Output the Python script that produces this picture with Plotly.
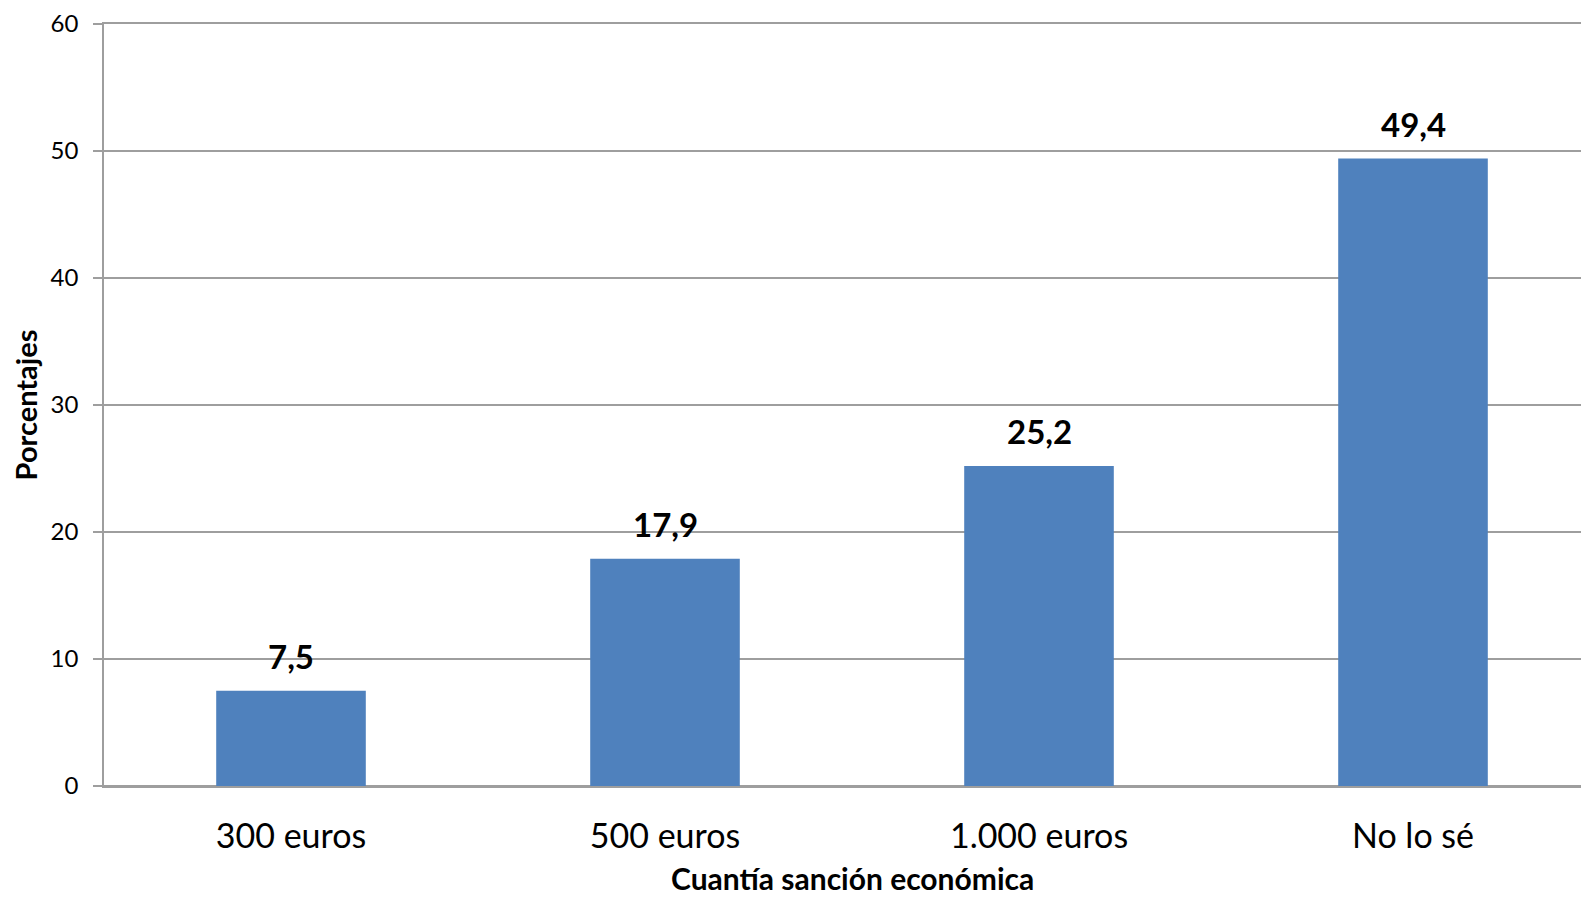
import plotly.graph_objects as go

categories = ["300 euros", "500 euros", "1.000 euros", "No lo sé"]
values = [7.5, 17.9, 25.2, 49.4]
y_ticks = [0, 10, 20, 30, 40, 50, 60]
x_title = "Cuantía sanción económica"
y_title = "Porcentajes"

FONT = "Lato, 'Open Sans', sans-serif"
BAR = "#4F81BD"
GRID = "#9e9e9e"

fig = go.Figure()
fig.add_trace(go.Bar(
    x=categories, y=values, marker=dict(color=BAR, line=dict(width=0)),
    width=0.4, hoverinfo="skip",
))

for c, v in zip(categories, values):
    fig.add_annotation(
        x=c, y=v, text="<b>" + f"{v:.1f}".replace(".", ",") + "</b>",
        showarrow=False, yanchor="bottom", yshift=13,
        font=dict(family=FONT, size=33, color="black"),
    )

# x-axis title as a paper annotation so it can sit low, like the reference
fig.add_annotation(
    xref="paper", yref="paper", x=0.504, y=-0.121,
    xanchor="center", yanchor="middle", showarrow=False, borderpad=0,
    text="<b>" + x_title + "</b>",
    font=dict(family=FONT, size=30, color="black"),
)

# page body has an 8px margin; compensate so the chart sits like the reference
fig.update_layout(
    width=1581, height=889,
    margin=dict(l=96, r=0, t=16, b=111, pad=0, autoexpand=False),
    paper_bgcolor="white", plot_bgcolor="white",
    showlegend=False,
    font=dict(family=FONT, color="black"),
    bargap=0.6,
)
fig.update_xaxes(
    range=[-0.5, -0.5 + 1485 / 374.0], automargin=False,
    showgrid=False, showline=True, mirror=True,
    linecolor=GRID, linewidth=1.5, zeroline=False,
    ticks="", ticklabelstandoff=19,
    tickfont=dict(family=FONT, size=34, color="black"),
)
fig.update_yaxes(
    range=[0, 60], tickvals=y_ticks, ticktext=[str(t) for t in y_ticks],
    automargin=False,
    showgrid=True, gridcolor=GRID, gridwidth=1.5,
    showline=True, linecolor=GRID, linewidth=1.5,
    zeroline=True, zerolinecolor=GRID, zerolinewidth=1.5,
    ticks="outside", ticklen=9, tickcolor=GRID, tickwidth=1.5,
    ticklabelstandoff=10, ticklabeloverflow="allow",
    tickfont=dict(family=FONT, size=24, color="black"),
    title=dict(text="<b>" + y_title + "</b>", standoff=20,
               font=dict(family=FONT, size=29, color="black")),
)

fig.write_html("out.html")
